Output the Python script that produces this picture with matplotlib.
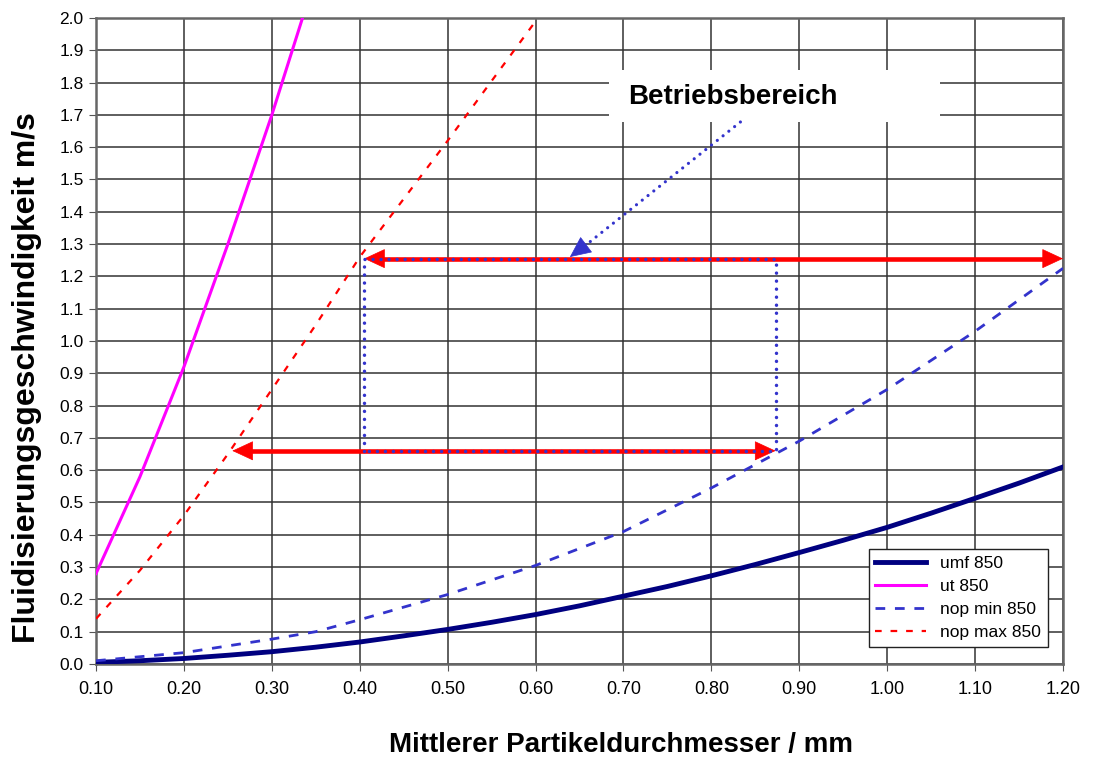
import matplotlib
matplotlib.use("Agg")
import matplotlib.pyplot as plt
from matplotlib.patches import Rectangle
import numpy as np

plt.rcParams['font.family'] = ['Liberation Sans', 'DejaVu Sans']

# Data
d = [0.10, 0.15, 0.20, 0.25, 0.30, 0.35, 0.40, 0.45, 0.50, 0.55, 0.60, 0.65,
     0.70, 0.75, 0.80, 0.85, 0.90, 0.95, 1.00, 1.05, 1.10, 1.15, 1.20]
umf = [0.005, 0.010, 0.017, 0.027, 0.038, 0.052, 0.068, 0.087, 0.107, 0.129, 0.153, 0.180,
       0.210, 0.240, 0.273, 0.308, 0.345, 0.383, 0.423, 0.467, 0.513, 0.560, 0.610]
d_ut = [0.10, 0.15, 0.20, 0.25, 0.30, 0.35]
ut = [0.28, 0.58, 0.92, 1.30, 1.70, 2.13]
d_nmax = [0.10, 0.15, 0.20, 0.25, 0.30, 0.35, 0.40, 0.50, 0.60]
nop_max = [0.14, 0.29, 0.46, 0.65, 0.85, 1.05, 1.26, 1.62, 1.99]
d_nmin = [0.10, 0.20, 0.30, 0.35, 0.40, 0.50, 0.60, 0.70, 0.80, 0.90, 1.00, 1.10, 1.20]
nop_min = [0.010, 0.035, 0.077, 0.100, 0.137, 0.215, 0.305, 0.410, 0.545, 0.690, 0.850, 1.030, 1.225]

xticks = [0.10, 0.20, 0.30, 0.40, 0.50, 0.60, 0.70, 0.80, 0.90, 1.00, 1.10, 1.20]
yticks = [0.0, 0.1, 0.2, 0.3, 0.4, 0.5, 0.6, 0.7, 0.8, 0.9, 1.0,
          1.1, 1.2, 1.3, 1.4, 1.5, 1.6, 1.7, 1.8, 1.9, 2.0]

# Operating range (Betriebsbereich)
box_x = [0.405, 0.873]
box_y = [0.66, 1.255]
upper_arrow = [0.405, 1.20]
lower_arrow = [0.255, 0.873]
pointer_from = (0.833, 1.678)
pointer_to = (0.639, 1.26)

RED = "#ff0000"
BLUE = "#3333cc"

fig = plt.figure(figsize=(10.95, 7.59), dpi=100)
ax = fig.add_axes([0.0877, 0.1252, 0.8831, 0.8511])

ax.plot(d, umf, color="#000080", lw=3.5, label="umf 850", zorder=4)
ax.plot(d_ut, ut, color="#ff00ff", lw=2.2, label="ut 850", zorder=4)
ax.plot(d_nmin, nop_min, color=BLUE, lw=2, ls=(0, (3.5, 3.5)), label="nop min 850", zorder=4)
ax.plot(d_nmax, nop_max, color=RED, lw=1.6, ls=(0, (3, 4)), label="nop max 850", zorder=4)


def head(tip, tail, color, zorder):
    # filled triangle arrow head, sizes in points
    ax.annotate("", xy=tip, xytext=tail,
                arrowprops=dict(arrowstyle="-|>,head_length=14,head_width=6.5",
                                mutation_scale=1, color=color, lw=0.5,
                                shrinkA=0, shrinkB=0), zorder=zorder)


# red double arrows
for (x0, x1), yy in [(upper_arrow, box_y[1]), (lower_arrow, box_y[0])]:
    ax.plot([x0 + 0.01, x1 - 0.01], [yy, yy], color=RED, lw=3.3, zorder=5, solid_capstyle="butt")
    head((x0, yy), (x0 + 0.03, yy), RED, 5)
    head((x1, yy), (x1 - 0.03, yy), RED, 5)

# blue dotted rectangle
ax.plot([box_x[0], box_x[0], box_x[1], box_x[1], box_x[0]],
        [box_y[0], box_y[1], box_y[1], box_y[0], box_y[0]],
        color=BLUE, lw=2.5, ls=(0, (0.01, 2.3)), dash_capstyle="round", zorder=6)

# pointer to the box
ax.plot([pointer_from[0], pointer_to[0] + 0.015], [pointer_from[1], pointer_to[1] + 0.03],
        color=BLUE, lw=2.3, ls=(0, (0.01, 2.3)), dash_capstyle="round", zorder=6)
head(pointer_to, (pointer_to[0] + 0.02, pointer_to[1] + 0.041), BLUE, 6)

# label box
ax.add_patch(Rectangle((0.684, 1.678), 0.376, 0.161, facecolor="white",
                       edgecolor="none", zorder=3))
ax.text(0.705, 1.755, "Betriebsbereich", fontsize=20, fontweight="bold",
        ha="left", va="center", zorder=7)

ax.set_xlim(0.10, 1.20)
ax.set_ylim(0.0, 2.0)
ax.set_xticks(xticks)
ax.set_xticklabels([f"{v:.2f}" for v in xticks])
ax.set_yticks(yticks)
ax.set_yticklabels([f"{v:.1f}" for v in yticks])
ax.tick_params(axis="x", labelsize=13, length=5, pad=7, color="#555555")
ax.tick_params(axis="y", labelsize=12.5, length=5, pad=4, color="#555555")
ax.grid(True, color="#333333", lw=1.1)
ax.set_axisbelow(True)
for s in ax.spines.values():
    s.set_color("#666666")
    s.set_linewidth(1.8)

ax.set_xlabel("Mittlerer Partikeldurchmesser / mm", fontsize=20, fontweight="bold")
ax.xaxis.set_label_coords(0.543, -0.105)
ax.set_ylabel("Fluidisierungsgeschwindigkeit m/s", fontsize=23, fontweight="bold")
ax.yaxis.set_label_coords(-0.056, 0.444)

leg = ax.legend(loc="lower right", bbox_to_anchor=(0.984, 0.026), fontsize=12.5,
                fancybox=False, framealpha=1, edgecolor="#222222",
                handlelength=2.9, borderaxespad=0, labelspacing=0.45)
leg.get_frame().set_linewidth(1)
leg.set_zorder(8)

fig.savefig("out.png", dpi=100)
